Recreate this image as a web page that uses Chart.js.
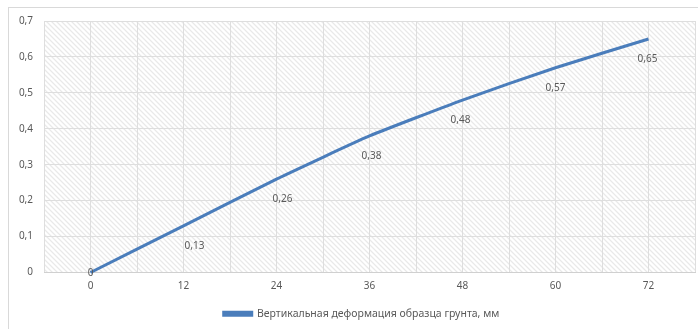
<!DOCTYPE html>
<html>
<head>
<meta charset="utf-8">
<script src="https://cdn.jsdelivr.net/npm/chart.js@4/dist/chart.umd.min.js"></script>
<style>
  html, body { margin: 0; padding: 0; background: #fff; }
  #wrap { width: 698px; height: 329px; position: relative; }
</style>
</head>
<body>
<div id="wrap"><canvas id="c" width="698" height="329"></canvas></div>
<script>
// Time, hours (category positions on the x axis)
const hours = [0, 12, 24, 36, 48, 60, 72];
// Vertical deformation of the soil sample, mm
const deformation = [0, 0.13, 0.26, 0.38, 0.48, 0.57, 0.65];
// Y axis tick values
const yTicks = [0, 0.1, 0.2, 0.3, 0.4, 0.5, 0.6, 0.7];
const seriesName = 'Вертикальная деформация образца грунта, мм';

const fmt = v => v === 0 ? '0' : String(+v.toFixed(2)).replace('.', ',');

// diagonal hatch used as plot-area fill
function makeHatch() {
  const s = 5;
  const cv = document.createElement('canvas');
  cv.width = s; cv.height = s;
  const cx = cv.getContext('2d');
  const img = cx.createImageData(s, s);
  for (let j = 0; j < s; j++) {
    for (let i = 0; i < s; i++) {
      const d = ((i - j) % s + s) % s;
      let c = 255;
      if (d === 0) c = 233;
      else if (d === 1 || d === s - 1) c = 246;
      const k = (j * s + i) * 4;
      img.data[k] = c; img.data[k + 1] = c; img.data[k + 2] = c; img.data[k + 3] = 255;
    }
  }
  cx.putImageData(img, 0, 0);
  return cx.createPattern(cv, 'repeat');
}

const frame = {
  id: 'frame',
  afterLayout(chart) {
    // centre the legend a little to the right, under the plot area
    if (chart.legend) { chart.legend.left += 14; chart.legend.right += 14; }
  },
  beforeDraw(chart) {
    const { ctx, chartArea: a } = chart;
    ctx.save();
    ctx.fillStyle = '#fff';
    ctx.fillRect(0, 0, chart.width, chart.height);
    ctx.strokeStyle = '#d9d9d9';
    ctx.lineWidth = 1;
    ctx.strokeRect(8.5, 7.5, chart.width + 10, chart.height + 10);
    ctx.fillStyle = makeHatch();
    ctx.fillRect(a.left, a.top, a.right - a.left, a.bottom - a.top);
    ctx.restore();
  }
};

// small horizontal nudges keep the value labels clear of the line
const labelNudge = [0, 11, 6, 2, -2, 0, -1];
const valueLabels = {
  id: 'valueLabels',
  afterDatasetsDraw(chart) {
    const { ctx, chartArea: a } = chart;
    const meta = chart.getDatasetMeta(0);
    ctx.save();
    ctx.font = '10px "Noto Sans", sans-serif';
    ctx.fillStyle = '#595959';
    ctx.textAlign = 'center';
    ctx.textBaseline = 'middle';
    meta.data.forEach((pt, i) => {
      const y = Math.min(pt.y + 20, a.bottom + 1);
      ctx.fillText(fmt(deformation[i]), pt.x + labelNudge[i], y);
    });
    ctx.restore();
  }
};

new Chart(document.getElementById('c'), {
  type: 'line',
  data: {
    datasets: [{
      label: seriesName,
      data: hours.map((h, i) => ({ x: h, y: deformation[i] })),
      borderColor: '#4a7dbb',
      backgroundColor: '#4a7dbb',
      borderWidth: 3,
      pointRadius: 0,
      pointHoverRadius: 0,
      tension: 0.15,
      clip: false
    }]
  },
  options: {
    responsive: false,
    animation: false,
    devicePixelRatio: 1,
    layout: { autoPadding: false, padding: { left: 0, right: 3, top: 21, bottom: 0 } },
    plugins: {
      legend: {
        position: 'bottom',
        labels: {
          boxWidth: 28,
          boxHeight: 3,
          color: '#595959',
          font: { family: '"Noto Sans", sans-serif', size: 10.5 },
          padding: 8
        }
      },
      tooltip: { enabled: false }
    },
    scales: {
      x: {
        type: 'linear',
        min: -6,
        max: 78,
        afterBuildTicks(scale) {
          const t = [];
          for (let v = -6; v <= 78; v += 6) t.push({ value: v });
          scale.ticks = t;
        },
        afterFit(scale) { scale.paddingLeft = 0; scale.paddingRight = 0; },
        ticks: {
          autoSkip: false,
          maxRotation: 0,
          padding: 8,
          color: '#595959',
          font: { family: '"Noto Sans", sans-serif', size: 10 },
          callback: v => hours.includes(v) ? String(v) : ''
        },
        grid: { color: '#dedede', drawTicks: false },
        border: { color: '#d0d0d0' }
      },
      y: {
        min: 0,
        max: 0.7,
        afterBuildTicks(scale) {
          scale.ticks = yTicks.map(v => ({ value: v }));
        },
        afterFit(scale) { scale.width = 44; },
        ticks: {
          padding: 11,
          color: '#595959',
          font: { family: '"Noto Sans", sans-serif', size: 10 },
          callback: v => fmt(v)
        },
        grid: { color: '#dedede', drawTicks: false },
        border: { display: false }
      }
    }
  },
  plugins: [frame, valueLabels]
});
</script>
</body>
</html>
